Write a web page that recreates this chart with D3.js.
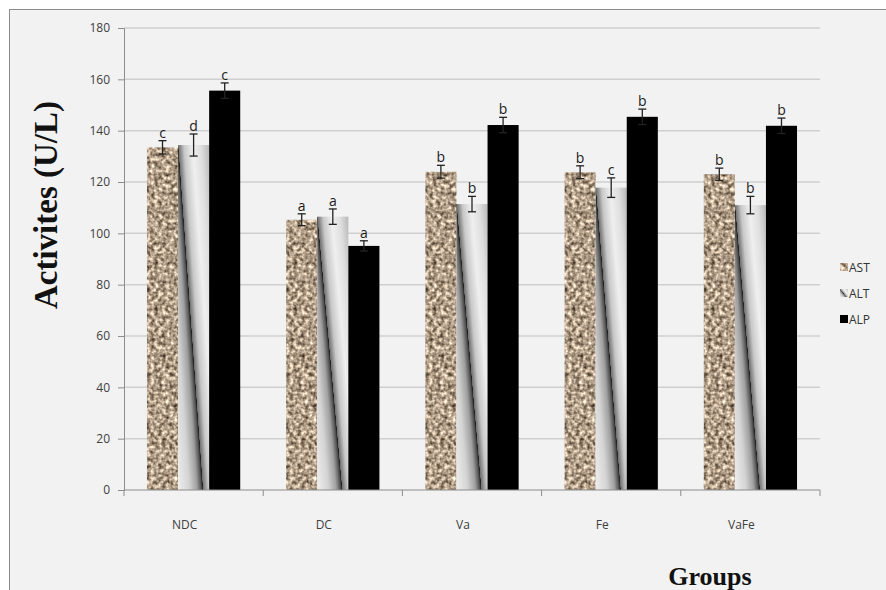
<!DOCTYPE html>
<html>
<head>
<meta charset="utf-8">
<script src="https://cdn.jsdelivr.net/npm/d3@7"></script>
<style>
  body { margin: 0; background: #fff; }
  svg { display: block; }
  .tick text { font-family: "Open Sans", "Liberation Sans", sans-serif; }
</style>
</head>
<body>
<div id="chart"></div>
<script>
var groups = ["NDC", "DC", "Va", "Fe", "VaFe"];
var seriesNames = ["AST", "ALT", "ALP"];

var astValues = [133.5, 105.3, 124.0, 123.8, 123.0];
var altValues = [134.4, 106.5, 111.4, 117.8, 111.0];
var alpValues = [155.6, 95.1, 142.2, 145.4, 141.9];

var astErr = [2.6, 2.3, 2.5, 2.5, 2.4];
var altErr = [4.3, 3.0, 3.0, 3.8, 3.4];
var alpErr = [3.0, 2.0, 3.0, 3.0, 3.0];

var astLetters = ["c", "a", "b", "b", "b"];
var altLetters = ["d", "a", "b", "c", "b"];
var alpLetters = ["c", "a", "b", "b", "b"];

var yTicks = [0, 20, 40, 60, 80, 100, 120, 140, 160, 180];

var width = 886, height = 590;
var margin = { left: 124, right: 66, top: 28, bottom: 100 };

var svg = d3.select("#chart").append("svg")
	.attr("width", width).attr("height", height);

var defs = svg.append("defs");

// granite look for AST
var gran = defs.append("filter").attr("id", "granite")
	.attr("x", 0).attr("y", 0).attr("width", 1).attr("height", 1)
	.attr("color-interpolation-filters", "sRGB");
gran.append("feTurbulence").attr("type", "fractalNoise")
	.attr("baseFrequency", 0.26).attr("numOctaves", 2).attr("seed", 3).attr("result", "noise");
gran.append("feColorMatrix").attr("in", "noise").attr("type", "matrix")
	.attr("values", "1.25 0 0 0 0.07  1.2 0 0 0 0.02  1.15 0 0 0 -0.04  0 0 0 0 1")
	.attr("result", "col");
gran.append("feComposite").attr("in", "col").attr("in2", "SourceGraphic").attr("operator", "in");

// diagonal sawtooth gradient for ALT
var grad = defs.append("linearGradient").attr("id", "altGrad")
	.attr("gradientUnits", "objectBoundingBox")
	.attr("x1", 0).attr("y1", 1).attr("x2", 1.098).attr("y2", 0.122);
var stops = [
	[0, "#eeeeee"], [0.2, "#d4d4d4"], [0.34, "#a0a0a0"], [0.42, "#505050"],
	[0.445, "#1e1e1e"], [0.45, "#707070"], [0.55, "#c8c8c8"], [0.7, "#efefef"],
	[0.85, "#dedede"], [1, "#b8b8b8"]
];
stops.forEach(function (s) {
	grad.append("stop").attr("offset", s[0]).attr("stop-color", s[1]);
});

var fills = ["#a89a8c", "url(#altGrad)", "#000"];

// outer frame
svg.append("rect").attr("x", 9.5).attr("y", 9.5)
	.attr("width", 900).attr("height", 600)
	.attr("fill", "#f2f2f2").attr("stroke", "#8c8c8c");

var x0 = d3.scaleBand().domain(groups)
	.range([margin.left, width - margin.right])
	.paddingInner(0.33).paddingOuter(0.165);

var x1 = d3.scaleBand().domain(seriesNames)
	.range([0, x0.bandwidth()]);

var y = d3.scaleLinear().domain([0, 180])
	.range([height - margin.bottom, margin.top]);

// gridlines
svg.append("g").selectAll("line").data(yTicks.slice(1)).enter()
	.append("line")
	.attr("x1", margin.left).attr("x2", width - margin.right)
	.attr("y1", function (d) { return y(d); })
	.attr("y2", function (d) { return y(d); })
	.attr("stroke", "#cfcfcf").attr("stroke-width", 1.5);

var data = groups.map(function (g, i) {
	return [
		{ s: "AST", g: g, v: astValues[i], e: astErr[i], l: astLetters[i] },
		{ s: "ALT", g: g, v: altValues[i], e: altErr[i], l: altLetters[i] },
		{ s: "ALP", g: g, v: alpValues[i], e: alpErr[i], l: alpLetters[i] }
	];
});

var grp = svg.append("g").selectAll("g").data(data).enter()
	.append("g")
	.attr("transform", function (d, i) { return "translate(" + x0(groups[i]) + ",0)"; });

var bars = grp.selectAll("g").data(function (d) { return d; }).enter().append("g");

bars.append("rect")
	.attr("x", function (d) { return x1(d.s); })
	.attr("width", x1.bandwidth())
	.attr("y", function (d) { return y(d.v); })
	.attr("height", function (d) { return y(0) - y(d.v); })
	.attr("fill", function (d, i) { return fills[seriesNames.indexOf(d.s)]; })
	.attr("filter", function (d) { return d.s == "AST" ? "url(#granite)" : null; });

var cx = function (d) { return x1(d.s) + x1.bandwidth() / 2; };

bars.append("line")
	.attr("x1", cx).attr("x2", cx)
	.attr("y1", function (d) { return y(d.v + d.e); })
	.attr("y2", function (d) { return y(d.v - d.e); })
	.attr("stroke", "#222").attr("stroke-width", 1.3);

[1, -1].forEach(function (sgn) {
	bars.append("line")
		.attr("x1", function (d) { return cx(d) - 4; })
		.attr("x2", function (d) { return cx(d) + 4; })
		.attr("y1", function (d) { return y(d.v + sgn * d.e); })
		.attr("y2", function (d) { return y(d.v + sgn * d.e); })
		.attr("stroke", "#222").attr("stroke-width", 1.3);
});

bars.append("text")
	.attr("x", cx)
	.attr("y", function (d) { return y(d.v + d.e) - 3; })
	.attr("text-anchor", "middle")
	.attr("font-family", "'Open Sans', sans-serif")
	.attr("font-size", 14).attr("fill", "#1a1a1a")
	.text(function (d) { return d.l; });

// y axis
var yAxis = svg.append("g")
	.attr("transform", "translate(" + margin.left + ",0)")
	.call(d3.axisLeft(y).tickValues(yTicks).tickSize(6).tickPadding(8));
yAxis.select(".domain").attr("stroke", "#8c8c8c");
yAxis.selectAll(".tick line").attr("stroke", "#8c8c8c");
yAxis.selectAll(".tick text").attr("font-size", 12).attr("fill", "#404040");

// x axis with ticks between groups
var xAxisG = svg.append("g")
	.attr("transform", "translate(0," + y(0) + ")");
xAxisG.append("line")
	.attr("x1", margin.left).attr("x2", width - margin.right)
	.attr("stroke", "#8c8c8c");
var step = x0.step();
var bounds = groups.map(function (g) { return x0(g) - step * 0.165; });
bounds.push(width - margin.right);
xAxisG.selectAll(".bt").data(bounds).enter().append("line")
	.attr("x1", function (d) { return d; }).attr("x2", function (d) { return d; })
	.attr("y1", 0).attr("y2", 6).attr("stroke", "#8c8c8c");
xAxisG.selectAll(".lab").data(groups).enter().append("text")
	.attr("x", function (d) { return x0(d) + x0.bandwidth() / 2 - 9; })
	.attr("y", 39)
	.attr("text-anchor", "middle")
	.attr("font-family", "'Open Sans', sans-serif")
	.attr("font-size", 12).attr("fill", "#404040")
	.text(function (d) { return d; });

// axis titles
svg.append("text")
	.attr("transform", "translate(57,205) rotate(-90)")
	.attr("text-anchor", "middle")
	.attr("font-family", "'Liberation Serif', 'Times New Roman', serif")
	.attr("font-weight", "bold").attr("font-size", 33).attr("fill", "#111")
	.text("Activites (U/L)");

svg.append("text")
	.attr("x", 710).attr("y", 585)
	.attr("text-anchor", "middle")
	.attr("font-family", "'Liberation Serif', 'Times New Roman', serif")
	.attr("font-weight", "bold").attr("font-size", 26).attr("fill", "#111")
	.text("Groups");

// legend
var legend = svg.append("g").attr("transform", "translate(840,263)");
var li = legend.selectAll("g").data(seriesNames).enter().append("g")
	.attr("transform", function (d, i) { return "translate(0," + i * 26 + ")"; });
li.append("rect").attr("width", 8).attr("height", 8)
	.attr("fill", function (d, i) { return fills[i]; })
	.attr("filter", function (d) { return d == "AST" ? "url(#granite)" : null; });
li.append("text").attr("x", 9).attr("y", 9)
	.attr("font-family", "'Open Sans', sans-serif")
	.attr("font-size", 12).attr("fill", "#333")
	.text(function (d) { return d; });
</script>
</body>
</html>
